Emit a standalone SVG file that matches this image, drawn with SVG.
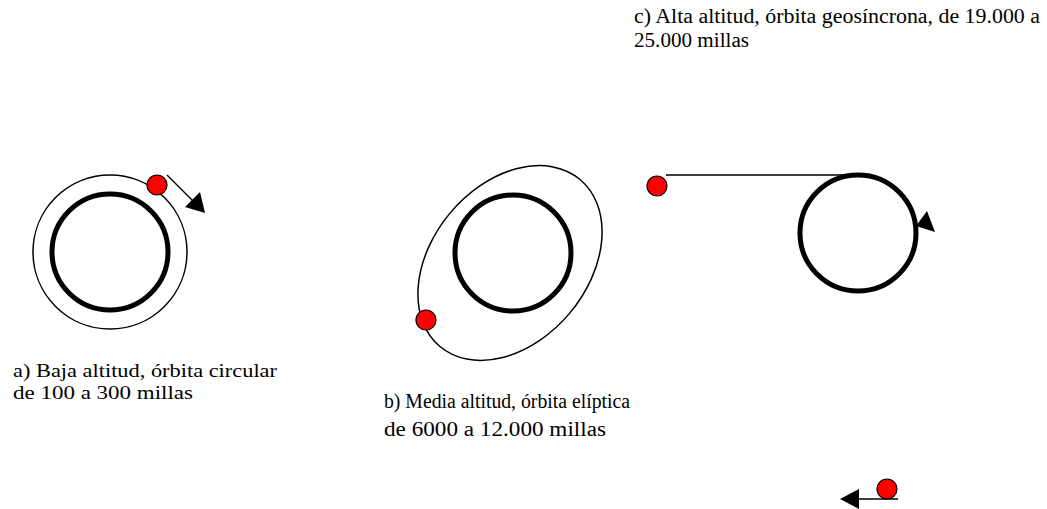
<svg xmlns="http://www.w3.org/2000/svg" width="1047" height="509" viewBox="0 0 1047 509">
<style>
.earth{fill:none;stroke:#000;stroke-width:5}
.orbit{fill:none;stroke:#000;stroke-width:1.5}
.sat{fill:#ff0000;stroke:#000;stroke-width:1.2}
.line{fill:none;stroke:#000;stroke-width:1.5}
.head{fill:#000;stroke:none}
.lbl{font-family:"Liberation Serif","Times New Roman",serif;font-size:20px;fill:#000}
.lbl.sm{font-size:18px}
</style>
<rect width="1047" height="509" fill="#fff"/>
<g id="orbit-a">
<circle class="orbit" cx="110" cy="252" r="77"/>
<circle class="earth" cx="110" cy="252" r="58"/>
<circle class="sat" cx="157" cy="185" r="10"/>
</g>
<g id="orbit-b">
<ellipse class="orbit" cx="510" cy="263" rx="78" ry="109" transform="rotate(40 510 263)"/>
<circle class="earth" cx="513" cy="253" r="58"/>
<circle class="sat" cx="426" cy="320" r="10"/>
</g>
<g id="orbit-c">
<circle class="earth" cx="858" cy="233" r="58"/>
<circle class="sat" cx="657" cy="186" r="10"/>
</g>
<g id="sat-d">
<circle class="sat" cx="887" cy="489" r="10"/>
</g>
<g id="connectors">
<line class="line" x1="167" y1="175" x2="193" y2="201"/>
<polygon class="head" points="205,213 185,207 200,192"/>
<line class="line" x1="666" y1="175" x2="845" y2="175"/>
<polygon class="head" points="927,211 935,232 916,226"/>
<line class="line" x1="898" y1="499" x2="858" y2="499"/>
<polygon class="head" points="840,499 859,489 859,509"/>
</g>
<g id="labels">
<text class="lbl" x="634" y="23" textLength="406" lengthAdjust="spacingAndGlyphs">c) Alta altitud, órbita geosíncrona, de 19.000 a</text>
<text class="lbl" x="634" y="47" textLength="115" lengthAdjust="spacingAndGlyphs">25.000 millas</text>
<text class="lbl sm" x="13" y="377" textLength="264" lengthAdjust="spacingAndGlyphs">a) Baja altitud, órbita circular</text>
<text class="lbl sm" x="13" y="399" textLength="180" lengthAdjust="spacingAndGlyphs">de 100 a 300 millas</text>
<text class="lbl" x="384" y="408" textLength="246" lengthAdjust="spacingAndGlyphs">b) Media altitud, órbita elíptica</text>
<text class="lbl" x="384" y="436" textLength="222" lengthAdjust="spacingAndGlyphs">de 6000 a 12.000 millas</text>
</g>
</svg>
